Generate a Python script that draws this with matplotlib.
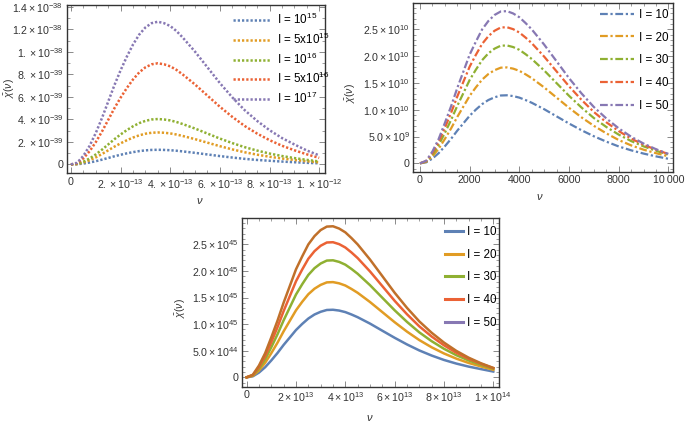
import numpy as np
import matplotlib
matplotlib.use("Agg")
import matplotlib.pyplot as plt
from matplotlib.lines import Line2D
from matplotlib.ticker import MultipleLocator

plt.rcParams['font.family'] = ['Liberation Sans', 'DejaVu Sans']
plt.rcParams['mathtext.fontset'] = 'custom'
plt.rcParams['mathtext.rm'] = 'Liberation Sans'
plt.rcParams['mathtext.it'] = 'Liberation Sans:italic'
plt.rcParams['mathtext.bf'] = 'Liberation Sans:bold'

# sample positions, as a fraction of the x range of each panel
nu = [0, .025, .05, .075, .1, .125, .15, .175, .2, .225, .25, .275, .3, .325, .35, .375,
      .4, .425, .45, .5, .55, .6, .65, .7, .75, .8, .85, .9, .95, 1.0]

# panel 1 (top left), nu in 1e-12, values in 1e-39
p1_I1e15 = [0, .016, .078, .169, .286, .423, .572, .722, .858, .982, 1.092, 1.183, 1.248, 1.287,
            1.30, 1.287, 1.261, 1.216, 1.157, 1.027, .884, .741, .611, .494, .397, .325, .254,
            .195, .143, .098]
p1_I5e15 = [0, .034, .170, .369, .625, .923, 1.25, 1.576, 1.874, 2.144, 2.386, 2.584, 2.726, 2.812,
            2.84, 2.812, 2.755, 2.655, 2.528, 2.244, 1.931, 1.619, 1.335, 1.079, .866, .682, .525,
            .398, .284, .185]
p1_I1e16 = [0, .048, .242, .524, .887, 1.31, 1.773, 2.237, 2.66, 3.043, 3.385, 3.667, 3.869, 3.99,
            4.03, 3.99, 3.909, 3.768, 3.587, 3.184, 2.74, 2.297, 1.894, 1.531, 1.229, .967, .746,
            .564, .403, .262]
p1_I5e16 = [0, .108, .539, 1.167, 1.976, 2.919, 3.951, 4.984, 5.927, 6.78, 7.543, 8.172, 8.621, 8.89,
            8.98, 8.89, 8.711, 8.396, 7.992, 7.094, 6.106, 5.119, 4.221, 3.412, 2.739, 2.155, 1.661,
            1.257, .898, .584]
p1_I1e17 = [0, .152, .760, 1.647, 2.787, 4.118, 5.575, 7.032, 8.362, 9.566, 10.643, 11.53, 12.163,
            12.543, 12.67, 12.543, 12.29, 11.846, 11.276, 10.009, 8.616, 7.222, 5.955, 4.815, 3.864,
            3.041, 2.344, 1.774, 1.24, .80]
p1_labels = ['I = $10^{15}$', 'I = 5x$10^{15}$', 'I = $10^{16}$', 'I = 5x$10^{16}$', 'I = $10^{17}$']

# panel 2 (top right), nu up to 10000, values in 1e10
p2_I10 = [0, .019, .089, .19, .318, .457, .61, .749, .889, 1.003, 1.105, 1.181, 1.232, 1.266, 1.27,
          1.255, 1.226, 1.181, 1.13, 1.01, .876, .743, .618, .505, .405, .315, .243, .182, .13, .085]
p2_I20 = [0, .028, .129, .273, .455, .651, .866, 1.063, 1.26, 1.419, 1.562, 1.666, 1.738, 1.785, 1.79,
          1.767, 1.726, 1.661, 1.589, 1.416, 1.226, 1.036, .859, .70, .56, .435, .335, .255, .19, .13]
p2_I30 = [0, .035, .163, .341, .567, .809, 1.073, 1.315, 1.557, 1.749, 1.925, 2.052, 2.14, 2.195, 2.20,
          2.170, 2.118, 2.037, 1.947, 1.733, 1.496, 1.26, 1.042, .845, .679, .536, .416, .317, .235, .162]
p2_I40 = [0, .042, .193, .40, .663, .942, 1.247, 1.527, 1.806, 2.026, 2.229, 2.372, 2.474, 2.535, 2.54,
          2.504, 2.441, 2.347, 2.242, 1.991, 1.715, 1.438, 1.186, .958, .767, .602, .462, .348, .254, .173]
p2_I50 = [0, .048, .222, .454, .753, 1.065, 1.406, 1.718, 2.031, 2.272, 2.499, 2.655, 2.769, 2.834, 2.84,
          2.797, 2.726, 2.618, 2.499, 2.215, 1.903, 1.59, 1.306, 1.051, .838, .653, .497, .369, .264, .176]

# panel 3 (bottom), nu in 1e14, values in 1e45
p3_I10 = [0, .019, .089, .19, .318, .457, .61, .749, .889, 1.003, 1.105, 1.181, 1.232, 1.266, 1.27,
          1.255, 1.226, 1.181, 1.13, 1.01, .876, .743, .618, .505, .409, .326, .258, .201, .154, .108]
p3_I20 = [0, .028, .129, .273, .455, .651, .866, 1.063, 1.26, 1.419, 1.562, 1.666, 1.738, 1.785, 1.79,
          1.767, 1.726, 1.661, 1.589, 1.416, 1.226, 1.036, .859, .70, .564, .448, .351, .27, .204, .141]
p3_I30 = [0, .035, .163, .341, .567, .809, 1.073, 1.315, 1.557, 1.749, 1.925, 2.052, 2.14, 2.195, 2.20,
          2.170, 2.118, 2.037, 1.947, 1.733, 1.496, 1.26, 1.042, .845, .679, .536, .416, .317, .235, .162]
p3_I40 = [0, .042, .193, .40, .663, .942, 1.247, 1.527, 1.806, 2.026, 2.229, 2.372, 2.474, 2.535, 2.54,
          2.504, 2.441, 2.347, 2.242, 1.991, 1.715, 1.438, 1.186, .958, .767, .602, .462, .348, .254, .173]
p3_I50 = [0, .048, .222, .454, .753, 1.065, 1.406, 1.718, 2.031, 2.272, 2.499, 2.655, 2.769, 2.834, 2.84,
          2.797, 2.726, 2.618, 2.499, 2.215, 1.903, 1.59, 1.306, 1.051, .838, .653, .497, .369, .264, .176]
I_labels = ['I = 10', 'I = 20', 'I = 30', 'I = 40', 'I = 50']

# tick labels
p1_xt = [0, 2e-13, 4e-13, 6e-13, 8e-13, 1e-12]
p1_xl = ['0', r'$2.\times10^{-13}$', r'$4.\times10^{-13}$', r'$6.\times10^{-13}$',
         r'$8.\times10^{-13}$', r'$1.\times10^{-12}$']
p1_yt = [0, 2e-39, 4e-39, 6e-39, 8e-39, 1e-38, 1.2e-38, 1.4e-38]
p1_yl = ['0', r'$2.\times10^{-39}$', r'$4.\times10^{-39}$', r'$6.\times10^{-39}$',
         r'$8.\times10^{-39}$', r'$1.\times10^{-38}$', r'$1.2\times10^{-38}$', r'$1.4\times10^{-38}$']
p2_xt = [0, 2000, 4000, 6000, 8000, 10000]
p2_xl = ['0', '2000', '4000', '6000', '8000', '10\u2009000']
p2_yt = [0, 5e9, 1e10, 1.5e10, 2e10, 2.5e10]
p2_yl = ['0', r'$5.0\times10^{9}$', r'$1.0\times10^{10}$', r'$1.5\times10^{10}$',
         r'$2.0\times10^{10}$', r'$2.5\times10^{10}$']
p3_xt = [0, 2e13, 4e13, 6e13, 8e13, 1e14]
p3_xl = ['0', r'$2\times10^{13}$', r'$4\times10^{13}$', r'$6\times10^{13}$',
         r'$8\times10^{13}$', r'$1\times10^{14}$']
p3_yt = [0, 5e44, 1e45, 1.5e45, 2e45, 2.5e45]
p3_yl = ['0', r'$5.0\times10^{44}$', r'$1.0\times10^{45}$', r'$1.5\times10^{45}$',
         r'$2.0\times10^{45}$', r'$2.5\times10^{45}$']

colors = ['#5E81B5', '#E19C24', '#8FB032', '#EB6235', '#8778B3']
brown = '#C0702A'


def style(ax, xt, xl, yt, yl, xminor, yminor):
    ax.set_xticks(xt, xl)
    ax.set_yticks(yt, yl)
    ax.xaxis.set_minor_locator(MultipleLocator(xminor))
    ax.yaxis.set_minor_locator(MultipleLocator(yminor))
    ax.tick_params(which='both', direction='in', top=True, right=True,
                   colors='#777777', labelcolor='#333333', labelsize=7.7, pad=2.5)
    ax.tick_params(which='major', length=4, width=0.6)
    ax.tick_params(which='minor', length=2, width=0.5)
    for s in ax.spines.values():
        s.set_color('#333333')
        s.set_linewidth(1.0)


fig = plt.figure(figsize=(6.85, 4.23), dpi=100)
x = np.array(nu)

# ---- panel 1: dotted
ax1 = fig.add_axes([0.0973, 0.590, 0.377, 0.398])
for vals, c, lab in zip([p1_I1e15, p1_I5e15, p1_I1e16, p1_I5e16, p1_I1e17], colors, p1_labels):
    ax1.plot(x * 1e-12, np.array(vals) * 1e-39, color=c, lw=1.8,
             linestyle=(0, (0.9, 0.8)), label=lab)
ax1.set_xlim(-0.0173e-12, 1.023e-12)
ax1.set_ylim(-0.08e-38, 1.415e-38)
style(ax1, p1_xt, p1_xl, p1_yt, p1_yl, 0.5e-13, 1e-39)
ax1.legend(loc='upper left', bbox_to_anchor=(0.644, 0.958), frameon=False, fontsize=8.4,
           handlelength=3.2, handletextpad=0.55, labelspacing=0.38, borderpad=0, borderaxespad=0)

# ---- panel 2: dot-dashed
ax2 = fig.add_axes([0.6034, 0.594, 0.3796, 0.398])
for vals, c, lab in zip([p2_I10, p2_I20, p2_I30, p2_I40, p2_I50], colors, I_labels):
    ax2.plot(x * 10000, np.array(vals) * 1e10, color=c, lw=1.6,
             linestyle=(0, (3.5, 1.2, 1.0, 1.2)), label=lab)
ax2.set_xlim(-270, 10201)
ax2.set_ylim(-0.157e10, 2.985e10)
style(ax2, p2_xt, p2_xl, p2_yt, p2_yl, 500, 1e9)
ax2.legend(loc='upper left', bbox_to_anchor=(0.718, 0.968), frameon=False, fontsize=8.4,
           handlelength=2.95, handletextpad=0.42, labelspacing=0.92, borderpad=0, borderaxespad=0)

# ---- panel 3: solid, top curve drawn brown
ax3 = fig.add_axes([0.3528, 0.0858, 0.3761, 0.398])
p3_series = [p3_I10, p3_I20, p3_I30, p3_I40, p3_I50]
line_colors = colors[:4] + [brown]
for vals, c in zip(p3_series, line_colors):
    ax3.plot(x * 1e14, np.array(vals) * 1e45, color=c, lw=1.8)
ax3.set_xlim(-0.0203e14, 1.0243e14)
ax3.set_ylim(-0.177e45, 2.989e45)
style(ax3, p3_xt, p3_xl, p3_yt, p3_yl, 0.5e13, 1e44)
handles = [Line2D([], [], color=c, lw=2.2) for c in colors]
ax3.legend(handles, I_labels, loc='upper left', bbox_to_anchor=(0.789, 0.955), frameon=False,
           fontsize=8.4, handlelength=1.55, handletextpad=0.38, labelspacing=0.92,
           borderpad=0, borderaxespad=0)

# axis labels
for ax, xc, yc in [(ax1, (0.516, -0.135), (-0.193, 0.507)),
                   (ax2, (0.487, -0.12), (-0.213, 0.467)),
                   (ax3, (0.498, -0.156), (-0.21, 0.47))]:
    ax.set_xlabel(r'$\nu$', fontsize=8, color='#333333')
    ax.set_ylabel(r'$\bar{\chi}(\nu)$', fontsize=7.6, color='#333333')
    ax.xaxis.set_label_coords(*xc)
    ax.yaxis.set_label_coords(*yc)

fig.savefig('out.png', dpi=100)
